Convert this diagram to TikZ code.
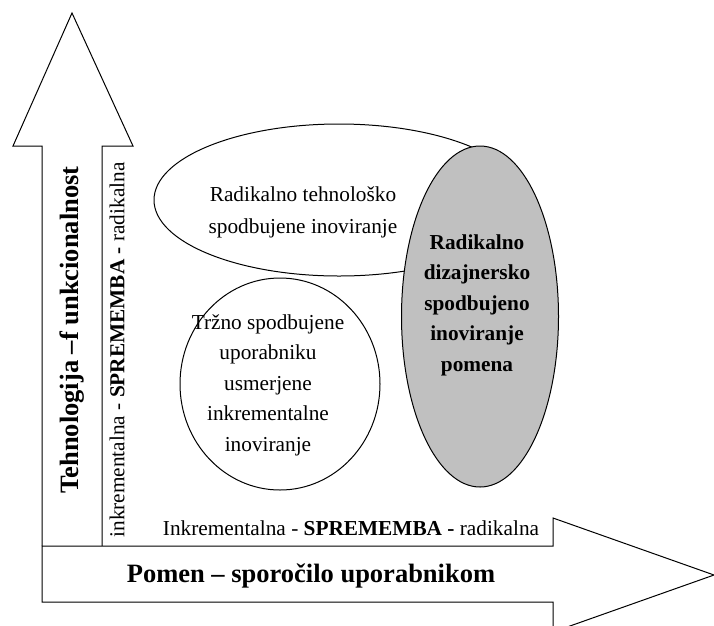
\documentclass[tikz,border=0pt]{standalone}
\usepackage{fontspec}
\setmainfont{Liberation Serif}
\usetikzlibrary{shapes.geometric}
\definecolor{greyfill}{RGB}{192,192,192}
\begin{document}
\begin{tikzpicture}[x=1pt,y=-1pt,line width=1pt,line join=miter,
  blob/.style={draw,ellipse,inner sep=0pt},
  txt/.style={font=\fontsize{21.3}{30.5}\selectfont,align=center,inner sep=0pt},
  axislabel/.style={font=\fontsize{26.5}{30}\selectfont\bfseries,inner sep=0pt}]
\useasboundingbox (0,0) rectangle (714,625);
\clip (0,0) rectangle (714,625);
% vertical arrow
\draw[fill=white] (42,546) -- (42,146) -- (13,146) -- (72,13) -- (133,146) -- (102,146) -- (102,546);
% horizontal arrow
\draw[fill=white] (42,546) -- (553,546) -- (553,518) -- (714,575) -- (553,632) -- (553,602) -- (42,602) -- cycle;
% ellipses
\node[blob,fill=white,minimum width=370pt,minimum height=152pt] (tech) at (339,200) {};
\node[blob,fill=white,minimum width=200pt,minimum height=212pt] (market) at (280,384) {};
\node[blob,fill=greyfill,minimum width=157pt,minimum height=341pt] (design) at (480,316.5) {};
% texts
\node[txt,font=\fontsize{21.3}{32}\selectfont] (techtext) at (303,212) {Radikalno tehnološko\\spodbujene inoviranje};
\node[txt] (markettext) at (268,385) {Tržno spodbujene\\uporabniku\\usmerjene\\inkrementalne\\inoviranje};
\node[txt,font=\fontsize{21.3}{30.5}\selectfont\bfseries] (designtext) at (477,305) {Radikalno\\dizajnersko\\spodbujeno\\inoviranje\\pomena};
\node[axislabel,rotate=90] (ylabel) at (72,330) {Tehnologija –f unkcionalnost};
\node[txt,rotate=90] (yscale) at (117,350) {inkrementalna - \textbf{SPREMEMBA -} radikalna};
\node[txt] (xscale) at (351,528) {Inkrementalna - \textbf{SPREMEMBA -} radikalna};
\node[axislabel] (xlabel) at (311,576) {Pomen – sporočilo uporabnikom};
\end{tikzpicture}
\end{document}
